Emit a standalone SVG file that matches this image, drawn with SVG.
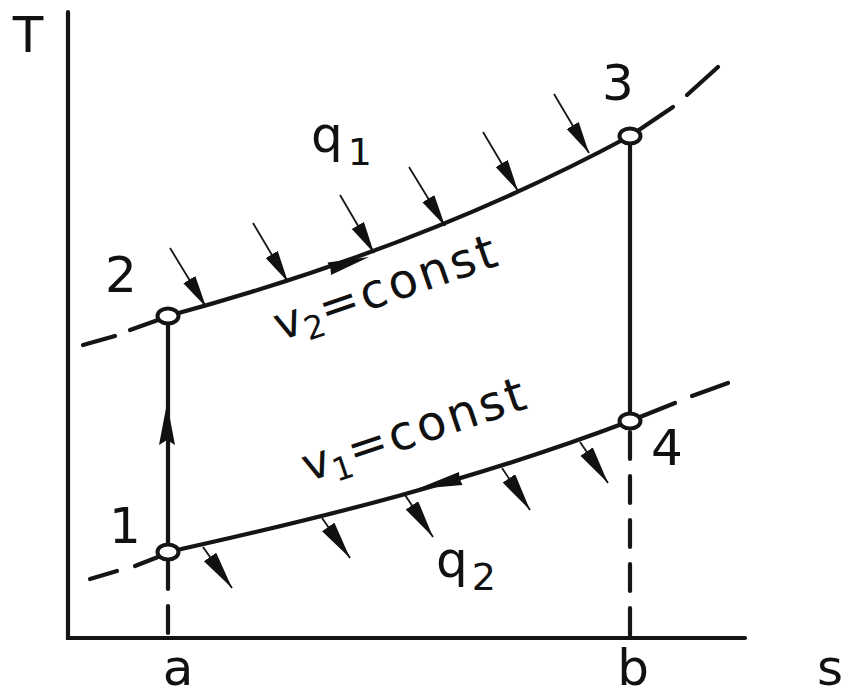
<svg xmlns="http://www.w3.org/2000/svg" width="849" height="698" viewBox="0 0 849 698">
<style>
.ln{fill:none;stroke:#151515;stroke-width:4.2;stroke-linecap:round}
.dash{stroke-dasharray:27 17}
.thin{fill:none;stroke:#151515;stroke-width:1.8}
.hd{fill:#111;stroke:none}
.pt{fill:#fff;stroke:#151515;stroke-width:4}
text{font-family:"DejaVu Sans","Liberation Sans",sans-serif;fill:#111}
.lbl{font-size:50px}
.ang{font-size:46px}
</style>
<defs>
<marker id="ahIn" markerUnits="userSpaceOnUse" markerWidth="40" markerHeight="20" viewBox="0 0 40 20" refX="32" refY="7" orient="auto"><path class="hd" d="M0,0 L32,7 L0,14 Z"/></marker>
<marker id="ahOut" markerUnits="userSpaceOnUse" markerWidth="44" markerHeight="20" viewBox="0 0 44 20" refX="38" refY="7.5" orient="auto"><path class="hd" d="M0,0 L38,7.5 L0,15 Z"/></marker>
</defs>

<g id="axes">
<path class="ln" d="M68,12 V638 H745"/>
<text class="lbl" x="28" y="52" text-anchor="middle" font-size="52">T</text>
<text class="lbl" x="830" y="685" text-anchor="middle">s</text>
<text class="lbl" x="178" y="685" text-anchor="middle">a</text>
<text class="lbl" x="633" y="685" text-anchor="middle">b</text>
</g>

<g id="connectors">
<!-- v2 = const (top isochore) -->
<path class="ln" d="M168,316 C322,274.4 476,219 630,136"/>
<path class="ln" d="M630,136 L673,107"/>
<path class="ln" d="M687,95 L718,67"/>
<path class="ln" d="M83,345 L115,336"/>
<path class="ln" d="M130,330 L158,320"/>
<!-- v1 = const (bottom isochore) -->
<path class="ln" d="M168,552 C322,518 476,479.5 630,421"/>
<path class="ln" d="M630,421 L675,403"/>
<path class="ln" d="M692,396 L728,383"/>
<path class="ln" d="M90,579 L117,571"/>
<path class="ln" d="M135,566 L158,557"/>
<!-- verticals -->
<path class="ln" d="M168,316 V552"/>
<path class="ln dash" d="M168,562 V638"/>
<path class="ln" d="M630,136 V421"/>
<path class="ln dash" d="M630,432 V638"/>
<!-- process direction arrowheads -->
<path class="hd" d="M167,403 L175,445 L167,440 L159,445 Z"/>
<path class="hd" d="M369,257 L327.5,262.5 L330.5,268.5 L331,275 Z"/>
<path class="hd" d="M417,489 L459,472 L459.5,478.5 L462.5,485 Z"/>
<!-- heat input q1 -->
<path class="thin" marker-end="url(#ahIn)" d="M170,248 L206,307"/>
<path class="thin" marker-end="url(#ahIn)" d="M253,223 L288,282"/>
<path class="thin" marker-end="url(#ahIn)" d="M340,195 L374,253"/>
<path class="thin" marker-end="url(#ahIn)" d="M409,167 L445,226"/>
<path class="thin" marker-end="url(#ahIn)" d="M483,132 L518,191"/>
<path class="thin" marker-end="url(#ahIn)" d="M554,94 L589,153"/>
<!-- heat rejection q2 -->
<path class="thin" marker-end="url(#ahOut)" d="M203,547 L232,588"/>
<path class="thin" marker-end="url(#ahOut)" d="M322,518 L350,558"/>
<path class="thin" marker-end="url(#ahOut)" d="M405,495 L433,537"/>
<path class="thin" marker-end="url(#ahOut)" d="M502,468 L530,510"/>
<path class="thin" marker-end="url(#ahOut)" d="M580,442 L608,483"/>
</g>

<g id="point-1"><ellipse class="pt" cx="168" cy="552" rx="10.5" ry="7.5"/><text class="lbl" x="125" y="543" text-anchor="middle">1</text></g>
<g id="point-2"><ellipse class="pt" cx="168" cy="316" rx="10.5" ry="7.5"/><text class="lbl" x="121" y="292" text-anchor="middle">2</text></g>
<g id="point-3"><ellipse class="pt" cx="630" cy="136" rx="10.5" ry="7.5"/><text class="lbl" x="618" y="100" text-anchor="middle">3</text></g>
<g id="point-4"><ellipse class="pt" cx="630" cy="421" rx="10.5" ry="7.5"/><text class="lbl" x="667" y="465" text-anchor="middle">4</text></g>

<g id="label-q1"><text class="lbl" x="311" y="152">q<tspan font-size="38" dx="5" dy="13">1</tspan></text></g>
<g id="label-q2"><text class="lbl" x="436" y="577">q<tspan font-size="38" dx="4" dy="13">2</tspan></text></g>
<g id="label-v2"><text class="ang" transform="translate(280,341) rotate(-19)">v<tspan font-size="32" dy="9">2</tspan><tspan dy="-9" font-size="48" letter-spacing="3">=const</tspan></text></g>
<g id="label-v1"><text class="ang" transform="translate(308,482) rotate(-18.5)">v<tspan font-size="32" dy="9">1</tspan><tspan dy="-9" font-size="48" letter-spacing="3">=const</tspan></text></g>
</svg>
